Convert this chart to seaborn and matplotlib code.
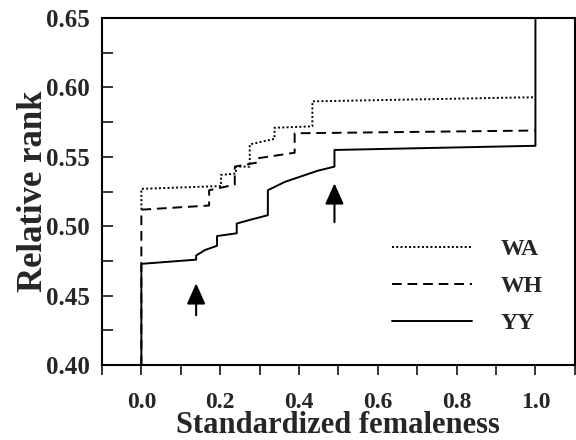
import matplotlib
matplotlib.use("Agg")
import matplotlib.pyplot as plt
import seaborn as sns

# step curves
wa_x = [0, 0, 0.202, 0.202, 0.24, 0.24, 0.275, 0.275, 0.338, 0.338, 0.434, 0.434, 1.0]
wa_y = [0.512, 0.527, 0.529, 0.537, 0.538, 0.543, 0.543, 0.559, 0.563, 0.571, 0.572, 0.590, 0.593]

wh_x = [0, 0, 0.172, 0.172, 0.237, 0.237, 0.295, 0.295, 0.389, 0.389, 1.0]
wh_y = [0.40, 0.512, 0.515, 0.526, 0.530, 0.543, 0.546, 0.549, 0.553, 0.567, 0.569]

yy_x = [0, 0, 0.139, 0.139, 0.162, 0.192, 0.192, 0.242, 0.242, 0.28, 0.321, 0.321,
        0.364, 0.447, 0.49, 0.49, 1.0, 1.0]
yy_y = [0.40, 0.473, 0.476, 0.479, 0.483, 0.486, 0.493, 0.495, 0.502, 0.505, 0.508, 0.526,
        0.532, 0.540, 0.543, 0.555, 0.558, 0.66]

# arrows: (x, tail y, head y)
arrows = [(0.139, 0.436, 0.459), (0.49, 0.503, 0.531)]

sns.set_style("ticks")
plt.rcParams["font.family"] = ["Liberation Serif", "DejaVu Serif"]
plt.rcParams["font.weight"] = "bold"

fig = plt.figure(figsize=(5.76, 4.4), dpi=100)
ax = fig.add_axes([0.177, 0.170, 0.821, 0.789])

series = [
    ("WA", wa_x, wa_y, (0, (1, 1.2))),
    ("WH", wh_x, wh_y, (0, (5, 3))),
    ("YY", yy_x, yy_y, "-"),
]
for name, xs, ys, ls in series:
    sns.lineplot(x=xs, y=ys, sort=False, estimator=None, ax=ax, color="black",
                 linewidth=1.4, linestyle=ls, label=name)

for x, y0, y1 in arrows:
    ax.annotate("", xy=(x, y1), xytext=(x, y0),
                arrowprops=dict(arrowstyle="-|>,head_length=0.85,head_width=0.38",
                                mutation_scale=15, color="black", lw=1.5,
                                shrinkA=0, shrinkB=0))

ax.set_xlim(-0.1, 1.1)
ax.set_ylim(0.40, 0.65)
ax.set_xticks([0.0, 0.2, 0.4, 0.6, 0.8, 1.0])
ax.set_xticks([-0.1, 0.1, 0.3, 0.5, 0.7, 0.9, 1.1], minor=True)
ax.set_yticks([0.40, 0.45, 0.50, 0.55, 0.60, 0.65])
ax.set_yticks([0.425, 0.475, 0.525, 0.575, 0.625], minor=True)
ax.set_xticklabels(["0.0", "0.2", "0.4", "0.6", "0.8", "1.0"])
ax.set_yticklabels(["0.40", "0.45", "0.50", "0.55", "0.60", "0.65"])

ax.tick_params(axis="x", which="both", direction="out", length=7, width=1.3,
               labelsize=17, pad=12)
ax.tick_params(axis="y", which="both", direction="in", length=8, width=1.3,
               labelsize=18, pad=9)
for side in ["left", "right", "top", "bottom"]:
    ax.spines[side].set_visible(True)
    ax.spines[side].set_linewidth(1.5)
    ax.spines[side].set_color("black")

ax.set_xlabel("Standardized femaleness", fontsize=22, fontweight="bold")
ax.xaxis.set_label_coords(0.5, -0.133)
ax.set_ylabel("Relative rank", fontsize=25, fontweight="bold", labelpad=-3)

leg = ax.legend(loc="upper left", bbox_to_anchor=(0.588, 0.398), frameon=False,
                handlelength=3.4, handletextpad=1.2, labelspacing=0.65,
                prop={"family": "Liberation Serif", "weight": "bold", "size": 17},
                borderpad=0)

fig.savefig("out.png", dpi=100)
plt.close(fig)
